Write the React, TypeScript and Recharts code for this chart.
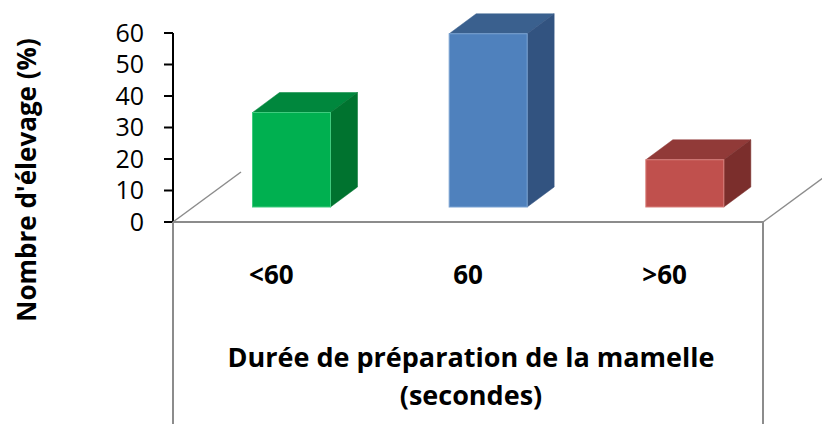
import React from 'react';
import { BarChart, Bar, XAxis, YAxis } from 'recharts';

// ---- data ----
const categories = ['<60', '60', '>60'];
const values = [30, 55, 15];
const yTicks = [0, 10, 20, 30, 40, 50, 60];
const yAxisTitle = "Nombre d'élevage (%)";
const xAxisTitleLines = ['Durée de préparation de la mamelle', '(secondes)'];

// ---- style ----
const FRONT = ['#00B050', '#4F81BD', '#C0504D'];
const TOP = ['#00873D', '#3A608E', '#913A38'];
const SIDE = ['#00732F', '#325380', '#7B2E2C'];
const EDGE = ['#3FCB7E', '#7AA2D2', '#D8807D'];
const FONT = '"Open Sans", Lato, sans-serif';

const W = 822;
const H = 424;
const MARGIN = { top: 33, right: 59, bottom: 0, left: 0 };
const Y_AXIS_W = 173;
const X_AXIS_H = 202;
const PLOT_L = MARGIN.left + Y_AXIS_W;
const PLOT_R = W - MARGIN.right;
const PLOT_B = H - MARGIN.bottom - X_AXIS_H;
// oblique depth
const FLOOR_DX = 68;
const FLOOR_DY = -50;
const BAR_OFF_X = 20.5;
const BAR_OFF_Y = -15;
const BAR_DX = 27;
const BAR_DY = -20;

const data = categories.map((c, i) => ({ name: c, value: values[i] }));

const Bar3D = (props: any) => {
  const { x, y, width, height, index } = props;
  if (width == null || height == null) return null;
  const fx = x + BAR_OFF_X;
  const fy = y + BAR_OFF_Y;
  const top = `${fx},${fy} ${fx + BAR_DX},${fy + BAR_DY} ${fx + width + BAR_DX},${fy + BAR_DY} ${fx + width},${fy}`;
  const side = `${fx + width},${fy} ${fx + width + BAR_DX},${fy + BAR_DY} ${fx + width + BAR_DX},${fy + height + BAR_DY} ${fx + width},${fy + height}`;
  return (
    <g>
      <polygon points={top} fill={TOP[index]} stroke={TOP[index]} strokeWidth={0.5} />
      <polygon points={side} fill={SIDE[index]} stroke={SIDE[index]} strokeWidth={0.5} />
      <rect x={fx} y={fy} width={width} height={height} fill={FRONT[index]} stroke={EDGE[index]} strokeWidth={1} />
    </g>
  );
};

const CatTick = (props: any) => {
  const { x, payload } = props;
  return (
    <text x={x} y={PLOT_B + 62} textAnchor="middle" fontFamily={FONT} fontWeight="bold" fontSize={26} fill="#000">
      {payload.value}
    </text>
  );
};

const XTitle = (props: any) => {
  const vb = props.viewBox || {};
  const cx = (vb.x ?? PLOT_L) + (vb.width ?? PLOT_R - PLOT_L) / 2;
  return (
    <text textAnchor="middle" fontFamily={FONT} fontWeight="bold" fontSize={27} fill="#000">
      <tspan x={cx + 3} y={PLOT_B + 145}>{xAxisTitleLines[0]}</tspan>
      <tspan x={cx + 3} y={PLOT_B + 183}>{xAxisTitleLines[1]}</tspan>
    </text>
  );
};

const YTitle = () => {
  const cx = 26;
  const cy = 180;
  return (
    <text
      x={cx}
      y={cy}
      transform={`rotate(-90 ${cx} ${cy})`}
      textAnchor="middle"
      dominantBaseline="central"
      fontFamily={FONT}
      fontWeight="bold"
      fontSize={26}
      fill="#000"
    >
      {yAxisTitle}
    </text>
  );
};

export default function App() {
  return (
    <div style={{ position: 'absolute', left: 0, top: 0, width: W, height: H, background: '#fff' }}>
      <BarChart width={W} height={H} data={data} margin={MARGIN}>
        <XAxis
          dataKey="name"
          height={X_AXIS_H}
          axisLine={{ stroke: '#8C8C8C', strokeWidth: 2 }}
          tickLine={false}
          tick={<CatTick />}
          interval={0}
          label={<XTitle />}
        />
        <YAxis
          width={Y_AXIS_W}
          domain={[0, 60]}
          ticks={yTicks}
          interval={0}
          axisLine={{ stroke: '#000', strokeWidth: 2 }}
          tickLine={{ stroke: '#000', strokeWidth: 2 }}
          tickSize={9}
          tickMargin={20}
          tick={{ fill: '#000', fontFamily: FONT, fontSize: 25 }}
          label={<YTitle />}
        />
        <Bar dataKey="value" barSize={78} isAnimationActive={false} shape={<Bar3D />} />
      </BarChart>
      <svg
        width={W}
        height={H}
        style={{ position: 'absolute', left: 0, top: 0, pointerEvents: 'none' }}
      >
        <line x1={PLOT_L} y1={PLOT_B} x2={PLOT_L} y2={H} stroke="#8C8C8C" strokeWidth={2} />
        <line x1={PLOT_R} y1={PLOT_B} x2={PLOT_R} y2={H} stroke="#8C8C8C" strokeWidth={2} />
        <line x1={PLOT_L} y1={PLOT_B} x2={PLOT_L + FLOOR_DX} y2={PLOT_B + FLOOR_DY} stroke="#8C8C8C" strokeWidth={1.5} />
        <line x1={PLOT_R} y1={PLOT_B} x2={PLOT_R + FLOOR_DX} y2={PLOT_B + FLOOR_DY} stroke="#8C8C8C" strokeWidth={1.5} />
      </svg>
    </div>
  );
}
